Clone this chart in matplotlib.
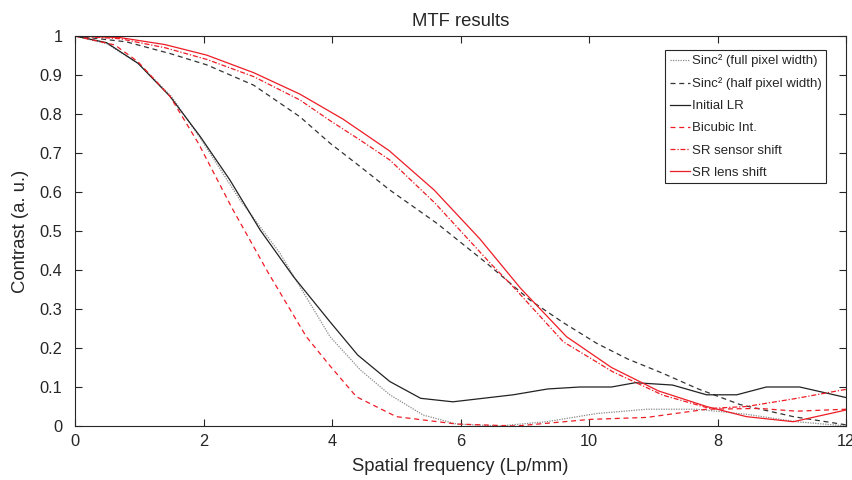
import numpy as np
import matplotlib
matplotlib.use('Agg')
import matplotlib.pyplot as plt

plt.rcParams['font.family'] = ['Liberation Sans', 'DejaVu Sans']

# Sinc^2 (full pixel width)
sinc_full_x = [0, 0.5, 1.0, 1.5, 1.95, 2.57, 3.19, 3.6, 3.97, 4.44, 4.9, 5.42,
               5.94, 6.6, 7.34, 8.12, 8.9, 9.68, 10.45, 11.23, 12]
sinc_full_y = [1, 0.98, 0.928, 0.845, 0.738, 0.579, 0.443, 0.33, 0.229, 0.144,
               0.08, 0.028, 0.005, 0.0, 0.011, 0.032, 0.043, 0.043, 0.03, 0.011, 0.0]

# Sinc^2 (half pixel width)
sinc_half_x = [0, 0.8, 1.48, 2.05, 2.78, 3.5, 3.97, 4.44, 4.9, 5.63, 6.41, 7.08,
               7.6, 8.12, 8.6, 9.15, 9.7, 10.35, 11.18, 12]
sinc_half_y = [1, 0.985, 0.955, 0.926, 0.874, 0.793, 0.725, 0.665, 0.605, 0.52,
               0.417, 0.323, 0.265, 0.212, 0.172, 0.135, 0.095, 0.055, 0.024, 0.003]

# Initial LR
lr_x = [0, 0.49, 0.98, 1.48, 1.95, 2.41, 2.88, 3.4, 3.97, 4.4, 4.9, 5.38, 5.88,
        6.35, 6.82, 7.36, 7.86, 8.35, 8.72, 9.3, 9.83, 10.3, 10.76, 11.28, 12]
lr_y = [1, 0.983, 0.93, 0.845, 0.742, 0.631, 0.503, 0.383, 0.267, 0.182, 0.114,
        0.071, 0.062, 0.071, 0.08, 0.095, 0.1, 0.1, 0.111, 0.105, 0.08, 0.08,
        0.1, 0.1, 0.073]

# Bicubic Int.
bic_x = [0, 0.62, 0.98, 1.48, 1.92, 2.44, 3.0, 3.6, 3.97, 4.38, 5.0, 5.94, 6.87,
         8.02, 8.9, 9.83, 10.66, 11.23, 12]
bic_y = [1, 0.977, 0.934, 0.845, 0.725, 0.56, 0.395, 0.229, 0.154, 0.075, 0.024,
         0.005, 0.0, 0.017, 0.022, 0.043, 0.045, 0.038, 0.043]

# SR sensor shift
sens_x = [0, 0.7, 1.4, 2.05, 2.78, 3.5, 3.97, 4.44, 4.9, 5.6, 6.46, 6.82, 7.6,
          8.37, 9.15, 9.88, 10.45, 11.2, 12]
sens_y = [1, 0.993, 0.97, 0.94, 0.896, 0.836, 0.783, 0.733, 0.682, 0.572, 0.418,
          0.357, 0.216, 0.139, 0.079, 0.045, 0.05, 0.07, 0.094]

# SR lens shift
lens_x = [0, 0.7, 1.4, 2.05, 2.78, 3.5, 4.17, 4.89, 5.59, 6.3, 6.93, 7.65, 8.35,
          9.08, 9.83, 10.45, 11.18, 12]
lens_y = [1, 0.996, 0.978, 0.951, 0.906, 0.851, 0.787, 0.706, 0.605, 0.48, 0.354,
          0.229, 0.15, 0.09, 0.05, 0.024, 0.011, 0.041]

xtick_pos = [0, 2, 4, 6, 8, 10, 12]
xtick_labels = ['0', '2', '4', '6', '10', '8', '12']
ytick_pos = [0, 0.1, 0.2, 0.3, 0.4, 0.5, 0.6, 0.7, 0.8, 0.9, 1]
ytick_labels = ['0', '0.1', '0.2', '0.3', '0.4', '0.5', '0.6', '0.7', '0.8', '0.9', '1']

txt = '#262626'
red = '#ee1c25'
fig = plt.figure(figsize=(8.52, 4.8), dpi=100)
ax = fig.add_axes([75/852, 54/480, 771/852, 390/480])

lw = 0.9
ax.plot(sinc_full_x, sinc_full_y, color='#8a8a8a', lw=lw, ls=(0, (1, 1)),
        label='Sinc² (full pixel width)')
ax.plot(sinc_half_x, sinc_half_y, color='#333333', lw=lw, ls=(0, (4, 3)),
        label='Sinc² (half pixel width)')
ax.plot(lr_x, lr_y, color='#222222', lw=lw, label='Initial LR')
ax.plot(bic_x, bic_y, color=red, lw=lw, ls=(0, (4, 3)), label='Bicubic Int.')
ax.plot(sens_x, sens_y, color=red, lw=lw, ls=(0, (4, 1.5, 1, 1.5)),
        label='SR sensor shift')
ax.plot(lens_x, lens_y, color=red, lw=lw, label='SR lens shift')

ax.set_xlim(0, 12)
ax.set_ylim(0, 1)
ax.set_xticks(xtick_pos)
ax.set_xticklabels(xtick_labels)
ax.set_yticks(ytick_pos)
ax.set_yticklabels(ytick_labels)
ax.tick_params(direction='in', top=True, right=True, length=5, width=0.8,
               labelsize=11.8, colors=txt)
ax.tick_params(axis='x', pad=6)
ax.tick_params(axis='y', pad=9)
for s in ax.spines.values():
    s.set_color(txt)
    s.set_linewidth(0.8)

ax.set_xlabel('Spatial frequency (Lp/mm)', fontsize=13.3, color=txt, labelpad=6)
ax.set_ylabel('Contrast (a. u.)', fontsize=13.3, color=txt, labelpad=8)
ax.set_title('MTF results', fontsize=13.3, color=txt, pad=7)

leg = ax.legend(loc='upper right', bbox_to_anchor=(0.974, 0.964), borderaxespad=0,
                fontsize=9.5, handlelength=1.5, handletextpad=0.15, labelspacing=0.75,
                borderpad=0.35, fancybox=False, framealpha=1, edgecolor=txt)
leg.get_frame().set_linewidth(0.8)
for t in leg.get_texts():
    t.set_color(txt)

plt.savefig('out.png', dpi=100)
